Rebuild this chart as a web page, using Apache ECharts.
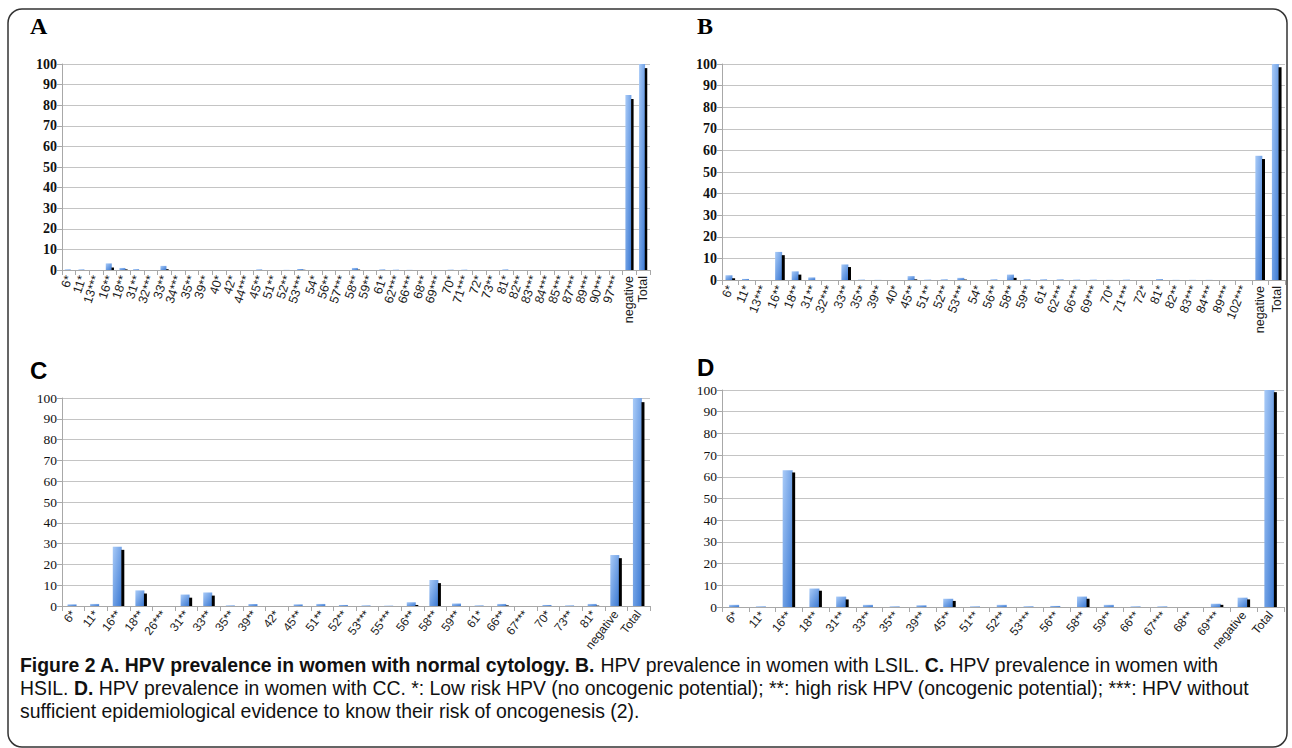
<!DOCTYPE html>
<html><head><meta charset="utf-8">
<script src="https://cdn.jsdelivr.net/npm/echarts@6/dist/echarts.min.js"></script>
<style>html,body{margin:0;padding:0;background:#fff}#c{width:1292px;height:748px}</style>
</head><body><div id="c"></div>
<script>
// ---- data ----
const catsA = ['6*','11*','13***','16**','18**','31**','32***','33**','34***','35**','39**','40*','42*','44***','45**','51**','52**','53***','54*','56**','57***','58**','59**','61*','62***','66***','68**','69***','70*','71***','72*','73**','81*','82**','83***','84***','85***','87***','89***','90***','97***','negative','Total'];
const blueA  = [0.3,0.3,0,3.2,1,0.4,0,2,0,0,0,0,0,0,0.3,0,0.1,0.5,0,0,0,1,0,0.3,0.2,0.1,0,0,0.2,0.2,0,0,0.3,0,0,0,0,0,0,0,0,85,100];
const blackA = [0,0,0,1.2,0.3,0,0,0.4,0,0,0,0,0,0,0,0,0,0.1,0,0,0,0.2,0,0,0,0,0,0,0,0,0,0,0,0,0,0,0,0,0,0,0,83,98];

const catsB = ['6*','11*','13***','16**','18**','31**','32***','33**','35**','39**','40*','45**','51**','52**','53***','54*','56**','58**','59**','61*','62***','66***','69***','70*','71***','72*','81*','82**','83***','84***','89***','102***','negative','Total'];
const blueB  = [2.2,0.5,0,13,4,1.2,0,7.2,0.2,0.1,0,1.8,0.2,0.3,1,0,0.3,2.5,0.3,0.3,0.3,0.2,0.2,0.1,0.2,0,0.4,0.1,0.1,0.1,0,0,57.5,100];
const blackB = [0.8,0,0,11.5,2.5,0,0,6,0,0,0,0.3,0,0,0.2,0,0,1,0,0,0,0,0,0,0,0,0,0,0,0,0,0,56,98.5];

const catsC = ['6*','11*','16**','18**','26***','31**','33**','35**','39**','42*','45**','51**','52**','53***','55***','56**','58**','59**','61*','66**','67***','70*','73**','81*','negative','Total'];
const blueC  = [0.8,1,28.5,7.5,0,5.5,6.5,0.3,1,0,0.8,1,0.5,0.3,0.2,1.8,12.5,1.2,0.3,1,0,0.5,0.3,1,24.5,100];
const blackC = [0,0,27,6,0,4,5,0,0,0,0,0,0,0,0,0.5,11,0,0,0.3,0,0,0,0.2,23,98];

const catsD = ['6*','11*','16**','18**','31**','33**','35**','39**','45**','51**','52**','53***','56**','58**','59**','66**','67***','68**','69***','negative','Total'];
const blueD  = [1,0.3,63,8.5,4.8,1,0.3,0.8,3.8,0.3,1,0.3,0.5,4.8,1,0.3,0.3,0,1.5,4.3,100];
const blackD = [0,0,62,7.5,3.5,0,0,0,2.8,0,0,0,0,3.8,0,0,0,0,1,3.5,99];

const panels = [
  {letter:'A', cats:catsA, blue:blueA, black:blackA, grid:{left:62,top:64,width:588,height:206}, rot:72, split:true, serifBold:true, bw:6, kw:2.5, lx:30, ly:14, fs:12.5},
  {letter:'B', cats:catsB, blue:blueB, black:blackB, grid:{left:722,top:64,width:563,height:216}, rot:68, split:true, serifBold:true, bw:7, kw:3, lx:697, ly:14, fs:12.5},
  {letter:'C', cats:catsC, blue:blueC, black:blackC, grid:{left:62,top:398,width:588,height:208}, rot:52, split:false, serifBold:false, bw:9, kw:3, lx:30, ly:358, fs:12},
  {letter:'D', cats:catsD, blue:blueD, black:blackD, grid:{left:722,top:390,width:562,height:217}, rot:50, split:false, serifBold:false, bw:10, kw:3, lx:697, ly:355, fs:12}
];

const blueGrad = {type:'linear',x:0,y:0,x2:1,y2:1,colorStops:[{offset:0,color:'#a9cbf8'},{offset:1,color:'#3a78d2'}]};
const special = v => v==='negative' || v==='Total';

const grid=[], xAxis=[], yAxis=[], series=[], graphic=[];
panels.forEach((p,i)=>{
  grid.push(Object.assign({}, p.grid));
  xAxis.push({
    type:'category', gridIndex:i, data:p.cats, boundaryGap:true,
    axisLine:{lineStyle:{color:'#a8a8a8'}},
    axisTick:{show:true, interval:0, length:5, lineStyle:{color:'#a8a8a8'}},
    axisLabel:{interval:0, rotate:p.rot, fontFamily:'Liberation Sans', fontSize:p.fs, color:'#1a1a1a', margin:6,
      formatter: v => (p.split && special(v)) ? '' : v}
  });
  yAxis.push({
    type:'value', gridIndex:i, min:0, max:100, interval:10,
    axisLine:{show:true, lineStyle:{color:'#a8a8a8'}},
    axisTick:{show:true, length:5, lineStyle:{color:'#a8a8a8'}},
    splitLine:{lineStyle:{color:'#c4c4c4', width:1.2}},
    axisLabel:{fontFamily:'Liberation Serif', fontSize:p.serifBold?14:13.5, fontWeight:p.serifBold?'bold':'normal', color:'#111', margin:5}
  });
  series.push({type:'bar', xAxisIndex:i, yAxisIndex:i, data:p.blue, barWidth:p.bw, barGap:'-5%', itemStyle:{color:blueGrad}, animation:false});
  series.push({type:'bar', xAxisIndex:i, yAxisIndex:i, data:p.black, barWidth:p.kw, itemStyle:{color:'#000'}, animation:false});
  graphic.push({type:'text', left:p.lx, top:p.ly, style:{text:p.letter,
    font: p.serifBold ? 'bold 24px "Liberation Serif"' : 'bold 24px "Liberation Sans"', fill:'#000'}});
});
// overlay axes for vertical negative/Total labels (A and B)
panels.forEach((p,i)=>{
  if(!p.split) return;
  xAxis.push({
    type:'category', gridIndex:i, data:p.cats, boundaryGap:true, position:'bottom',
    axisLine:{show:false}, axisTick:{show:false}, splitLine:{show:false},
    axisLabel:{interval:0, rotate:90, fontFamily:'Liberation Sans', fontSize:p.fs, color:'#1a1a1a', margin:6,
      formatter: v => special(v) ? v : ''}
  });
});

// frame
graphic.push({type:'rect', shape:{x:8,y:9,width:1279,height:738,r:14}, style:{fill:'none', stroke:'#333', lineWidth:1.5}, z:-1});
// caption
const capRich = {
  b:{fontFamily:'Liberation Sans', fontSize:19.4, lineHeight:22, fontWeight:'bold', fill:'#111'},
  r:{fontFamily:'Liberation Sans', fontSize:19.4, lineHeight:22, fill:'#111'}
};
const capLines = [
  '{b|Figure 2 A. HPV prevalence in women with normal cytology. B.}{r| HPV prevalence in women with LSIL. }{b|C.}{r| HPV prevalence in women with}',
  '{r|HSIL. }{b|D.}{r| HPV prevalence in women with CC. *: Low risk HPV (no oncogenic potential); **: high risk HPV (oncogenic potential); ***: HPV without}',
  '{r|sufficient epidemiological evidence to know their risk of oncogenesis (2).}'
];
capLines.forEach((t,k)=>{
  graphic.push({type:'text', left:20, top:655+k*23, style:{text:t, rich:capRich}});
});

const chart = echarts.init(document.getElementById('c'), null, {renderer:'svg'});
chart.setOption({animation:false, grid, xAxis, yAxis, series, graphic});
</script></body></html>
